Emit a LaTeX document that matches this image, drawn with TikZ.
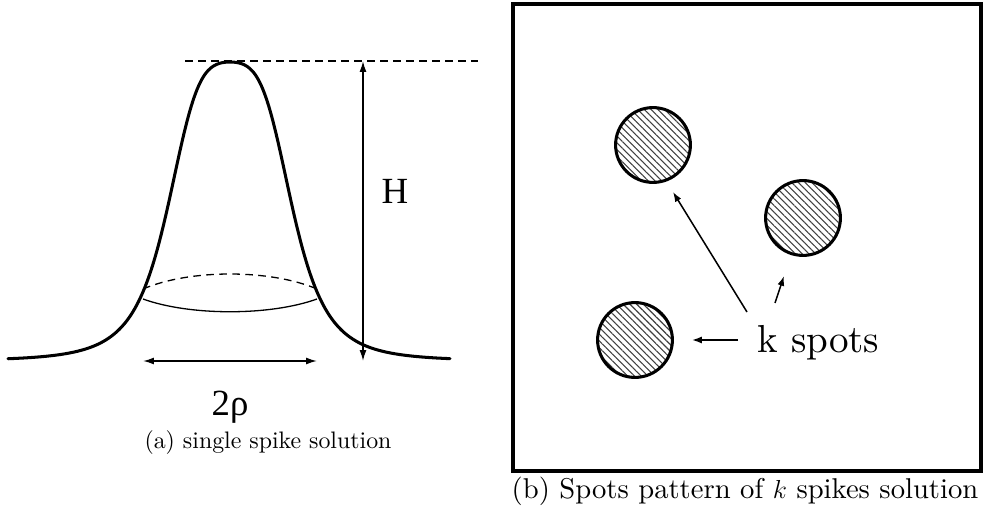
\documentclass[tikz,border=0pt]{standalone}
\usepackage{fontspec}
\newfontfamily\timesfont{Liberation Serif}
\newfontfamily\lmten{lmroman10-regular}[Extension=.otf]
\usetikzlibrary{arrows.meta,patterns.meta}

\begin{document}
\begin{tikzpicture}[x=0.0162cm,y=-0.0162cm]
\tikzset{
  curveline/.style={line width=1.4pt,line cap=round},
  dashline/.style={line width=0.7pt,dash pattern=on 3.5pt off 2.5pt},
  arrowline/.style={{Latex[length=5pt,width=3.2pt]}-{Latex[length=5pt,width=3.2pt]},line width=0.7pt},
  pointer/.style={-{Latex[length=4.5pt,width=3.2pt]},line width=0.7pt},
  spot/.style={circle,draw,line width=1.4pt,minimum size=34.5pt,inner sep=0pt,
    pattern={Lines[angle=-45,distance=2.2pt,line width=0.5pt]},pattern color=black!75},
  bigtext/.style={font=\timesfont\fontsize{17}{20}\selectfont},
  captiontext/.style={font=\lmten\fontsize{11}{13}\selectfont}
}
\useasboundingbox (0,0) rectangle (984,511);
% (a) single spike
\coordinate (top_l) at (185,61);
\coordinate (top_r) at (478,61);
\coordinate (h_top) at (363,61);
\coordinate (h_bot) at (363,361);
\coordinate (rho_l) at (143,361);
\coordinate (rho_r) at (317,361);
\draw[curveline] plot[smooth,samples=160,domain=-222:220]
  ({230+\x},{361-299/(1+(\x/168)^2+((\x/65.8)^2)^2)});
\draw[dashline] (top_l) -- (top_r);
\draw[arrowline] (h_top) -- (h_bot);
\draw[dashline,line width=0.6pt] (143,289) .. controls (190,269) and (270,269) .. (317,289);
\draw[line width=0.6pt] (143,299) .. controls (190,316) and (270,316) .. (317,299);
\draw[arrowline] (rho_l) -- (rho_r);
\node[bigtext] (lab_H) at (395,191) {H};
\node[bigtext] (lab_rho) at (230,407) {2ρ};
\node[captiontext] (cap_a) at (268,443) {(a) single spike solution};
% (b) spots pattern
\draw[line width=1.6pt] (513,4) rectangle (981,471);
\node[spot] (spot1) at (653,145) {};
\node[spot] (spot2) at (803,218) {};
\node[spot] (spot3) at (635,340) {};
\node[anchor=base west,font=\lmten\fontsize{18}{21}\selectfont,inner sep=0pt] (kspots) at (757,352) {k spots};
\coordinate (p1) at (747,312);
\coordinate (p2) at (775,303);
\coordinate (p3) at (738,340);
\coordinate (t1) at (673,192);
\coordinate (t2) at (784,276);
\coordinate (t3) at (692,340);
\draw[pointer] (p1) -- (t1);
\draw[pointer] (p2) -- (t2);
\draw[pointer] (p3) -- (t3);
\node[captiontext,font=\lmten\fontsize{13.2}{15}\selectfont] (cap_b) at (745,491) {(b) Spots pattern of $k$ spikes solution};
\end{tikzpicture}
\end{document}
